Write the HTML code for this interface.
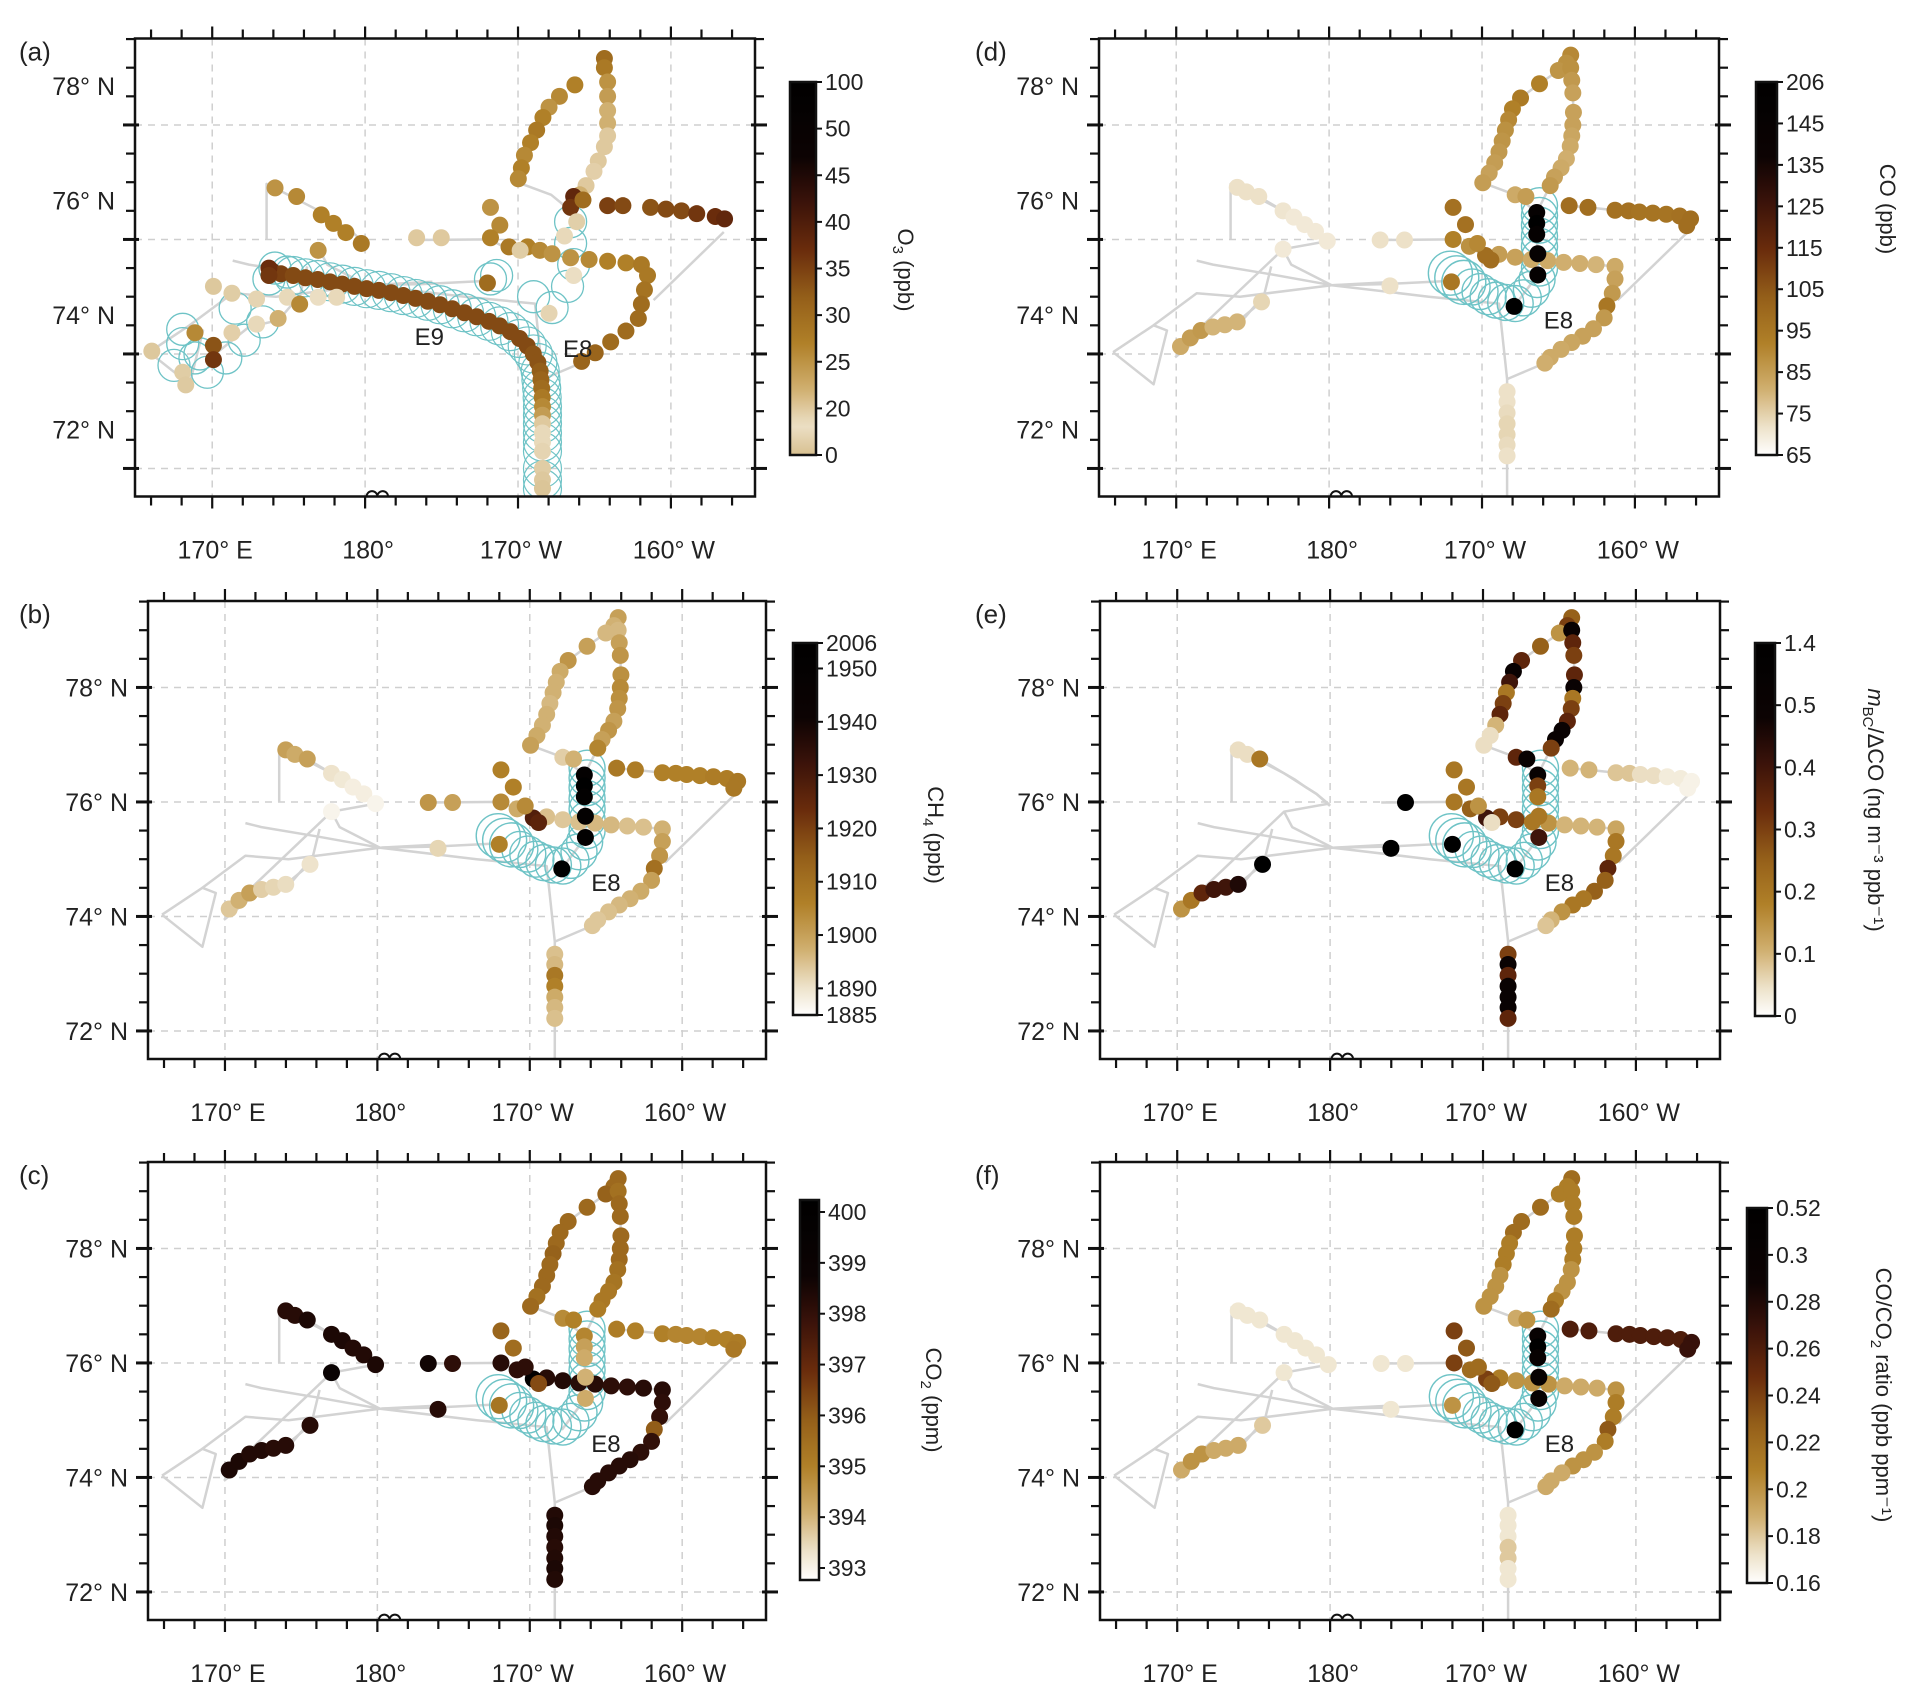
<!DOCTYPE html>
<html><head><meta charset="utf-8"><style>
html,body{margin:0;padding:0;background:#fff;}
svg{display:block;font-family:"Liberation Sans",Arial,sans-serif;}
</style></head><body>
<svg id="fig" xmlns="http://www.w3.org/2000/svg" width="1915" height="1699" viewBox="0 0 1915 1699"></svg>
<script>
// ---------- map extent (degrees, east-positive continuous) ----------
const lonL = 164.95, lonR = 205.5, latT = 79.51, latB = 71.51;
const lonTicks = [170,180,190,200];
const lonTickLabels = ["170° E","180°","170° W","160° W"];
const latTicks = [72,74,76,78];
const latTickLabels = ["72° N","74° N","76° N","78° N"];

// ---------- shared flight points (panels b-f) ----------
const ptLon = [195.80,195.52,194.99,193.76,192.52,191.99,191.74,191.53,191.32,191.11,190.83,190.47,190.05,
 195.80,195.87,195.94,195.98,195.94,195.87,195.77,195.52,195.17,194.74,194.46,
 192.17,192.87,
 195.70,196.93,198.70,199.58,200.29,201.17,202.05,202.93,203.64,203.39,
 188.11,189.17,191.11,192.17,193.23,194.29,195.34,196.40,197.46,198.70,198.70,198.52,198.17,197.99,197.29,196.58,195.87,195.17,194.46,194.11,
 191.64,191.64,191.64,191.64,191.64,191.64,191.64,
 193.58,193.58,193.58,193.65,193.65,192.10,
 190.23,190.58,188.11,188.92,189.70,188.00,184.93,183.34,183.98,
 173.99,174.59,175.40,176.99,177.70,178.40,179.11,179.88,176.99,
 170.28,170.92,171.62,172.40,173.18,173.99,175.58];
const ptLat = [79.22,79.08,78.95,78.72,78.47,78.28,78.09,77.91,77.72,77.53,77.34,77.16,76.99,
 79.00,78.78,78.56,78.22,78.00,77.81,77.63,77.41,77.25,77.09,76.94,
 76.78,76.75,
 76.59,76.56,76.51,76.50,76.48,76.46,76.44,76.41,76.36,76.24,
 76.00,75.88,75.74,75.69,75.65,75.63,75.60,75.58,75.56,75.53,75.31,75.06,74.84,74.63,74.44,74.31,74.20,74.08,73.94,73.84,
 73.34,73.16,72.97,72.78,72.59,72.41,72.22,
 76.47,76.28,76.09,75.75,75.38,74.83,
 75.72,75.64,76.56,76.26,75.93,75.26,75.99,75.99,75.19,
 76.91,76.83,76.75,76.50,76.39,76.26,76.14,75.97,75.83,
 74.13,74.28,74.41,74.47,74.51,74.56,74.91];

const valB = [1900,1897,1896,1900,1902,1898,1897,1897,1896,1897,1897,1898,1900,
 1896,1900,1902,1903,1904,1903,1902,1900,1902,1900,1905, 1893,1897,
 1908,1907,1906,1906,1906,1906,1907,1907,1908,1908,
 1904,1898,1895,1894,1895,1896,1896,1895,1895,1897,1900,1902,1910,1900,1898,1897,1896,1895,1894,1894,
 1895,1896,1908,1906,1898,1896,1895,
 1955,2000,1960,1955,1960,2006,
 1928,1926,1906,1906,1904,1906,1900,1902,1892,
 1900,1898,1900,1890,1889,1888,1888,1887,1887,
 1894,1897,1900,1893,1892,1891,1890];
const valC = [395.7,395.7,395.9,395.7,395.7,395.7,395.7,395.9,395.7,395.7,395.7,395.5,395.7,
 395.5,395.7,395.7,395.7,395.7,395.7,395.5,395.4,395.3,395.3,395.2, 394.9,395.1,
 395.2,395.1,395.1,395.0,395.0,395.0,395.1,395.1,395.2,395.3,
 398.1,398.0,398.1,398.2,398.1,398.1,398.0,398.0,398.1,398.1,398.0,397.9,396.0,397.9,398.0,398.1,398.1,398.1,398.1,398.1,
 398.2,398.3,398.2,398.1,398.2,398.3,398.2,
 395,394.5,394.3,394.2,394.3,null,
 399.6,396.3,395.8,395.6,398.0,395.4,398.0,398.5,398.1,
 398.1,398.1,398.3,398.3,398.3,398.2,398.2,398.3,398.8,
 398.3,398.3,398.2,398.2,398.1,398.1,398.1];
const valD = [90,88,87,92,94,92,90,88,87,86,85,84,85,
 88,86,84,84,84,83,82,81,82,84,86, 82,85,
 98,98,97,97,96,96,96,97,98,98,
 92,88,85,84,82,82,81,81,80,82,84,86,95,86,84,84,83,82,82,81,
 72,72,73,74,74,73,72,
 150,206,160,150,160,206,
 98,98,97,97,90,95,72,72,72,
 72,72,72,71,70,70,70,70,70,
 82,85,86,80,80,80,74];
const valE = [0.25,0.3,0.15,0.25,0.35,0.6,0.4,0.2,0.3,0.35,0.1,0.05,0.05,
 0.6,0.35,0.3,0.35,0.5,0.2,0.3,0.35,0.5,0.6,0.3, 0.35,0.6,
 0.1,0.1,0.08,0.08,0.05,0.05,0.03,0.03,0.02,0.02,
 0.2,0.25,0.3,0.3,0.2,0.15,0.1,0.1,0.1,0.12,0.2,0.2,0.35,0.25,0.25,0.2,0.2,0.15,0.1,0.08,
 0.3,0.5,0.35,0.6,0.6,0.6,0.35,
 0.6,0.3,0.2,0.2,0.4,1.4,
 0.4,0.05,0.2,0.2,0.15,1.4,1.4,null,1.4,
 0.05,0.05,0.2,null,null,null,null,null,null,
 0.15,0.2,0.35,0.4,0.4,0.45,1.4];
const valF = [0.22,0.21,0.21,0.22,0.22,0.22,0.21,0.21,0.21,0.2,0.2,0.2,0.2,
 0.21,0.21,0.21,0.21,0.21,0.21,0.2,0.2,0.2,0.21,0.22, 0.19,0.2,
 0.26,0.26,0.26,0.26,0.26,0.26,0.26,0.26,0.27,0.27,
 0.24,0.22,0.21,0.2,0.2,0.2,0.19,0.19,0.19,0.2,0.21,0.21,0.23,0.21,0.2,0.2,0.2,0.19,0.19,0.19,
 0.17,0.17,0.17,0.18,0.18,0.17,0.17,
 0.3,0.52,0.3,0.3,0.3,0.52,
 0.24,0.23,0.24,0.23,0.22,0.2,0.17,0.17,0.17,
 0.17,0.17,0.17,0.17,0.17,0.17,0.17,0.17,0.17,
 0.19,0.2,0.2,0.19,0.19,0.19,0.18];

// ---------- panel (a) points: O3 ----------
const aLon = [195.65,195.65,193.72,192.71,192.03,191.63,191.22,190.82,190.42,190.22,190.02,
 195.86,195.86,195.86,195.86,195.86,195.65,195.25,194.97,194.45,194.04,
 195.86,196.86,198.67,199.68,200.69,201.69,202.90,203.51,
 193.64,193.44,194.25,
 188.2,188.81,188.2,189.41,190.62,191.43,192.23,193.44,194.65,195.86,197.06,198.07,198.47,198.27,198.07,197.87,197.06,196.06,195.05,194.16,
 190.14,192.03,193.64,193.04,193.84,188.0,
 174.11,175.52,177.13,177.93,178.74,179.75,183.37,184.98,
 173.9,174.5,175.3,176.1,176.9,177.7,178.5,179.3,180.1,180.9,181.7,182.5,183.3,184.1,184.9,185.7,186.5,187.3,188.1,188.8,189.5,190.1,190.6,191.0,191.3,191.45,191.5,191.55,191.58,191.6,191.6,191.6,191.6,191.6,191.6,191.6,191.6,191.6,
 168.87,170.08,170.08,166.05,168.07,168.27,170.08,171.29,172.9,174.91,176.93,178.14,171.29,172.9,174.31,175.72,176.93,173.71,173.71];
const aLat = [79.16,79.0,78.70,78.5,78.31,78.13,77.91,77.69,77.47,77.25,77.06,
 78.75,78.5,78.25,78.03,77.81,77.62,77.37,77.19,76.94,76.78,
 76.59,76.59,76.56,76.53,76.5,76.45,76.4,76.36,
 76.75,76.56,76.69,
 76.56,76.25,76.03,75.87,75.87,75.81,75.75,75.68,75.65,75.62,75.59,75.56,75.37,75.12,74.87,74.62,74.40,74.21,74.02,73.87,
 75.81,74.71,75.37,76.06,76.31,75.24,
 76.9,76.75,76.43,76.28,76.12,75.93,76.03,76.03,
 75.45,75.4,75.37,75.33,75.3,75.26,75.22,75.18,75.14,75.11,75.07,75.02,74.97,74.92,74.86,74.79,74.72,74.65,74.57,74.49,74.39,74.27,74.14,74.0,73.85,73.7,73.55,73.4,73.24,73.08,72.93,72.78,72.62,72.46,72.3,72.0,71.8,71.65,
 74.37,74.15,73.9,74.05,73.68,73.46,75.18,75.06,74.96,74.99,74.99,74.99,74.37,74.52,74.62,74.87,75.81,75.5,75.37];
const aVal = [30,28,27,26,25,27,28,27,26,27,26,
 25,24,22,22,20,20,20,18,20,22,
 35,34,33,34,34,36,37,38,
 38,36,30,
 25,26,27,28,27,26,25,25,26,27,27,28,28,29,30,30,30,30,31,31,
 5,8,12,10,6,30,
 25,26,27,27,27,28,20,20,
 37,35,34,34,34,34,34,34,34,34,34,34,34,34,34,34,34,34,34,34,34,34,34,33,33,32,31,30,28,26,24,20,15,10,8,5,3,2,
 26,33,36,3,5,4,3,5,8,10,12,10,18,15,22,26,25,37,36];

// ---------- colourbar levels ----------
const ticksA = [0,20,25,30,35,40,45,50,100];
const ticksB = [1885,1890,1900,1910,1920,1930,1940,1950,2006];
const ticksC = [393,394,395,396,397,398,399,400];
const ticksD = [65,75,85,95,105,115,125,135,145,206];
const ticksE = [0,0.1,0.2,0.3,0.4,0.5,1.4];
const ticksF = [0.16,0.18,0.20,0.22,0.24,0.26,0.28,0.30,0.52];

// ---------- footprints (cyan circles) ----------
const e8Lon = [193.76,193.76,193.76,193.76,193.76,193.76,193.76,193.6,193.23,192.7,192.17,191.55,190.93,190.4,189.87,189.35,188.81,188.35,187.93];
const e8Lat = [76.59,76.42,76.25,76.06,75.88,75.69,75.5,75.3,75.13,74.98,74.88,74.9,74.94,75.0,75.09,75.17,75.25,75.33,75.41];
const aCircLon = [193.44,193.44,193.64,193.24,192.23,191.02,188.2,188.6,168.07,168.07,168.87,169.68,170.89,172.09,173.3,173.71,174.1,174.9,167.5,169.2,171.5];
const aCircLat = [76.31,75.93,75.56,75.18,74.81,75.0,75.31,75.37,74.43,74.18,73.93,73.68,73.93,74.24,74.56,75.31,75.5,75.43,73.8,74.0,74.8];

// ---------- grey track polylines ----------
const tracks = [
 [[165.87,74.03],[168.52,74.5],[169.4,74.41],[168.52,73.47],[165.87,74.03]],
 [[169.93,73.94],[172.4,74.47],[174.34,74.59],[175.75,75.03],[176.21,75.53]],
 [[168.52,74.5],[171.34,75.06],[174.17,75.0],[180.17,75.2],[183.7,75.22],[188.11,75.28]],
 [[171.34,75.63],[172.4,75.56],[176,75.4],[180.17,75.2],[184.4,75.26]],
 [[173.56,76.0],[173.56,76.97],[174.59,76.83],[176.99,76.5],[179.11,76.14],[179.99,75.93]],
 [[176.99,75.83],[177.52,75.56],[180.17,75.2],[186.52,75.0],[191.11,74.88],[191.64,73.56],[191.64,71.51]],
 [[191.64,73.56],[194.11,73.84]],
 [[203.46,76.13],[198.87,74.94]],
 [[183.34,75.99],[188.11,76.0],[190.23,75.72]],
 [[190.05,76.99],[192.17,76.78],[193.58,76.47],[194.46,76.94]],
 [[195.80,79.22],[195.80,79.0]]
];
const chainStarts = [0,13,26,36,56,63,79,88];
const chainEnds   = [12,23,35,55,62,68,87,94];

// ---------- panels ----------
const panels = [
 {id:'a', box:[135,38.5,755,496.5], cb:[790,82,816,455], ticks:ticksA, title:'O', sub:'3', unit:' (ppb)', tx:898, ty:270, labOff:-39, low:'#d8c090'},
 {id:'b', box:[148,601,766,1059], cb:[793,643,817,1015], ticks:ticksB, title:'CH', sub:'4', unit:' (ppb)', tx:928, ty:835, labOff:0, low:'#ffffff', bmap:[1885,1950,2006], bfr:[0,0.9315,1]},
 {id:'c', box:[148,1162,766,1620], cb:[800,1200,819,1580], ticks:ticksC, title:'CO', sub:'2', unit:' (ppm)', tx:926, ty:1400, labOff:0, low:'#ffffff', pad:12},
 {id:'d', box:[1099,38.5,1719,496.5], cb:[1756,82,1777,455], ticks:ticksD, title:'CO', sub:'', unit:' (ppb)', tx:1880, ty:209, labOff:-39, low:'#ffffff'},
 {id:'e', box:[1100,601,1720,1059], cb:[1755,643,1775,1016], ticks:ticksE, title:'m', sub:'BC', unit:'/ΔCO (ng m⁻³ ppb⁻¹)', tx:1868, ty:810, labOff:0, low:'#ffffff', italic:true},
 {id:'f', box:[1100,1162,1720,1620], cb:[1747,1208,1767,1583], ticks:ticksF, title:'CO/CO', sub:'2', unit:' ratio (ppb ppm⁻¹)', tx:1876, ty:1395, labOff:0, low:'#ffffff'}
];
const values = {b:valB, c:valC, d:valD, e:valE, f:valF};

const NS='http://www.w3.org/2000/svg';
const svg=document.getElementById('fig');
function mk(tag,attrs,parent){const e=document.createElementNS(NS,tag);for(const k in attrs)e.setAttribute(k,attrs[k]);(parent||svg).appendChild(e);return e;}

function hex(c){return [parseInt(c.slice(1,3),16),parseInt(c.slice(3,5),16),parseInt(c.slice(5,7),16)];}
function cmap(t,low){
  const stops=[[0,low],[0.08,'#ece0c6'],[0.18,'#cfad6c'],[0.3,'#b08028'],[0.42,'#95601a'],[0.55,'#6a2c0c'],[0.68,'#3a120a'],[0.8,'#0c0303'],[1,'#000000']];
  t=Math.max(0,Math.min(1,t));
  for(let i=1;i<stops.length;i++){if(t<=stops[i][0]){const a=stops[i-1],b=stops[i];const f=(t-a[0])/(b[0]-a[0]||1);const A=hex(a[1]),B=hex(b[1]);return 'rgb('+A.map((v,j)=>Math.round(v+(B[j]-v)*f)).join(',')+')';}}
  return '#000';
}
function frac(P,v){
  if(P.bmap){const m=P.bmap,f=P.bfr;for(let i=1;i<m.length;i++){if(v<=m[i]||i==m.length-1){return f[i-1]+(f[i]-f[i-1])*(v-m[i-1])/(m[i]-m[i-1]);}}}
  const t=P.ticks;if(v<=t[0])return 0;for(let i=1;i<t.length;i++){if(v<=t[i])return (i-1+(v-t[i-1])/(t[i]-t[i-1]))/(t.length-1);}return 1;
}

panels.forEach(P=>{
  const [x0,y0,x1,y1]=P.box;
  const sx=lon=>x0+(lon-lonL)*(x1-x0)/(lonR-lonL);
  const sy=lat=>y0+(latT-lat)*(y1-y0)/(latT-latB);
  const g=mk('g',{});
  
  
  const clip=mk('clipPath',{id:'clip'+P.id},g);mk('rect',{x:x0,y:y0,width:x1-x0,height:y1-y0},clip);
  lonTicks.forEach(l=>{const ln=mk('line',{x1:sx(l),x2:sx(l),y1:y0,y2:y1,stroke:'#cfcfcf','stroke-width':1.5,'stroke-dasharray':'7,6'},g);});
  latTicks.forEach(l=>{const ln=mk('line',{x1:x0,x2:x1,y1:sy(l),y2:sy(l),stroke:'#cfcfcf','stroke-width':1.5,'stroke-dasharray':'7,6'},g);});
  const inner=mk('g',{'clip-path':'url(#clip'+P.id+')'},g);
  const pl=(pts)=>pts.map(p=>sx(p[0]).toFixed(1)+','+sy(p[1]).toFixed(1)).join(' ');
  tracks.forEach(t=>{const e=mk('polyline',{points:pl(t),fill:'none',stroke:'#d3d3d3','stroke-width':2.5,'stroke-linejoin':'round'},inner);});
  if(P.id!=='a'){
    chainStarts.forEach((s,k)=>{const pts=[];for(let i=s;i<=chainEnds[k];i++)pts.push([ptLon[i],ptLat[i]]);const e=mk('polyline',{points:pl(pts),fill:'none',stroke:'#d3d3d3','stroke-width':2.5},inner);});
    e8Lon.forEach((l,i)=>{const c=mk('circle',{cx:sx(l),cy:sy(e8Lat[i]),r:(i>=16?22:18),fill:'none',stroke:'#6ec3c6','stroke-width':1.4},inner);});
    const vals=values[P.id];
    ptLon.forEach((l,i)=>{const v=vals[i];if(v===null||v===undefined)return;
      const c=mk('circle',{cx:sx(l),cy:sy(ptLat[i]),r:8.5,fill:cmap(frac(P,v),P.low)},inner);
      });
  } else {
    for(let i=68;i<aLon.length-19;i++){const c=mk('circle',{cx:sx(aLon[i]),cy:sy(aLat[i]),r:19,fill:'none',stroke:'#6ec3c6','stroke-width':1.2},inner);}
    aCircLon.forEach((l,i)=>{const c=mk('circle',{cx:sx(l),cy:sy(aCircLat[i]),r:16,fill:'none',stroke:'#6ec3c6','stroke-width':1.3},inner);});
    aLon.forEach((l,i)=>{const c=mk('circle',{cx:sx(l),cy:sy(aLat[i]),r:8.5,fill:cmap(frac(P,aVal[i]),P.low)},inner);});
    const t9=mk('text',{x:sx(184.2),y:sy(74.31)+9,'font-size':24,'text-anchor':'middle',fill:'#222'},g);t9.textContent='E9';
  }
  const lx=P.id==='a'?sx(193.9):sx(195.0), ly=P.id==='a'?sy(74.1):sy(74.6);
  const t8=mk('text',{x:lx,y:ly+9,'font-size':24,'text-anchor':'middle',fill:'#222'},g);t8.textContent='E8';
  const fr=mk('rect',{x:x0,y:y0,width:x1-x0,height:y1-y0,fill:'none',stroke:'#111','stroke-width':2.5},g);
  mk('path',{d:`M${sx(180.1)},${y1} a5,5 0 0 1 ${sx(180.8)-sx(180.1)},0 a5,5 0 0 1 ${sx(181.5)-sx(180.8)},0`,fill:'none',stroke:'#111','stroke-width':2},g);
  for(let l=166;l<=205;l+=2){const X=sx(l);const major=lonTicks.includes(l);const L=major?12:9;
    mk('line',{x1:X,x2:X,y1:y1,y2:y1+L,stroke:'#111','stroke-width':2.2},g);
    mk('line',{x1:X,x2:X,y1:y0,y2:y0-L,stroke:'#111','stroke-width':2.2},g);}
  for(let l=72;l<=79.5;l+=0.5){const Y=sy(l);const major=(l%2===0);
    mk('line',{x1:x0-(major?12:9),x2:x0+(major?4:0),y1:Y,y2:Y,stroke:'#111','stroke-width':major?3:2.2},g);
    mk('line',{x1:x1-(major?4:0),x2:x1+(major?12:9),y1:Y,y2:Y,stroke:'#111','stroke-width':major?3:2.2},g);}
  lonTicks.forEach((l,i)=>{const t=mk('text',{x:sx(l)+3,y:y1+62,'font-size':25,'text-anchor':'middle',fill:'#222'},g);t.textContent=lonTickLabels[i];});
  latTicks.forEach((l,i)=>{const t=mk('text',{x:x0-20,y:sy(l)+P.labOff+9,'font-size':25,'text-anchor':'end',fill:'#222'},g);t.textContent=latTickLabels[i];});
  const pt=mk('text',{x:P.id<'d'?19:975,y:y0+22,'font-size':26,fill:'#222'},g);pt.textContent='('+P.id+')';
  const [cx0,cy0,cx1,cy1]=P.cb;const pad=P.pad||0;
  const gid='grad'+P.id;const lg=mk('linearGradient',{id:gid,x1:0,y1:1,x2:0,y2:0},g);
  for(let k=0;k<=40;k++){const t=k/40;mk('stop',{offset:t,'stop-color':cmap(t,P.low)},lg);}
  const cb=mk('rect',{x:cx0,y:cy0,width:cx1-cx0,height:cy1-cy0,fill:'url(#'+gid+')',stroke:'#111','stroke-width':2.5},g);
  
  P.ticks.forEach(v=>{const Y=cy1-pad-frac(P,v)*(cy1-cy0-2*pad);
    mk('line',{x1:cx1,x2:cx1+6,y1:Y,y2:Y,stroke:'#111','stroke-width':2},g);
    const t=mk('text',{x:cx1+9,y:Y+8,'font-size':23,fill:'#222'},g);t.textContent=String(v);});
  const tt=mk('text',{x:P.tx,y:P.ty,'font-size':22,'text-anchor':'middle',fill:'#222',transform:`rotate(90 ${P.tx} ${P.ty})`},g);
  
  const s1=mk('tspan',{'font-style':P.italic?'italic':'normal'},tt);s1.textContent=P.title;
  if(P.sub){const s2=mk('tspan',{'font-size':15,dy:5},tt);s2.textContent=P.sub;const s3=mk('tspan',{dy:-5},tt);s3.textContent=P.unit;}
  else{const s3=mk('tspan',{},tt);s3.textContent=P.unit;}
});
</script>
</body></html>
